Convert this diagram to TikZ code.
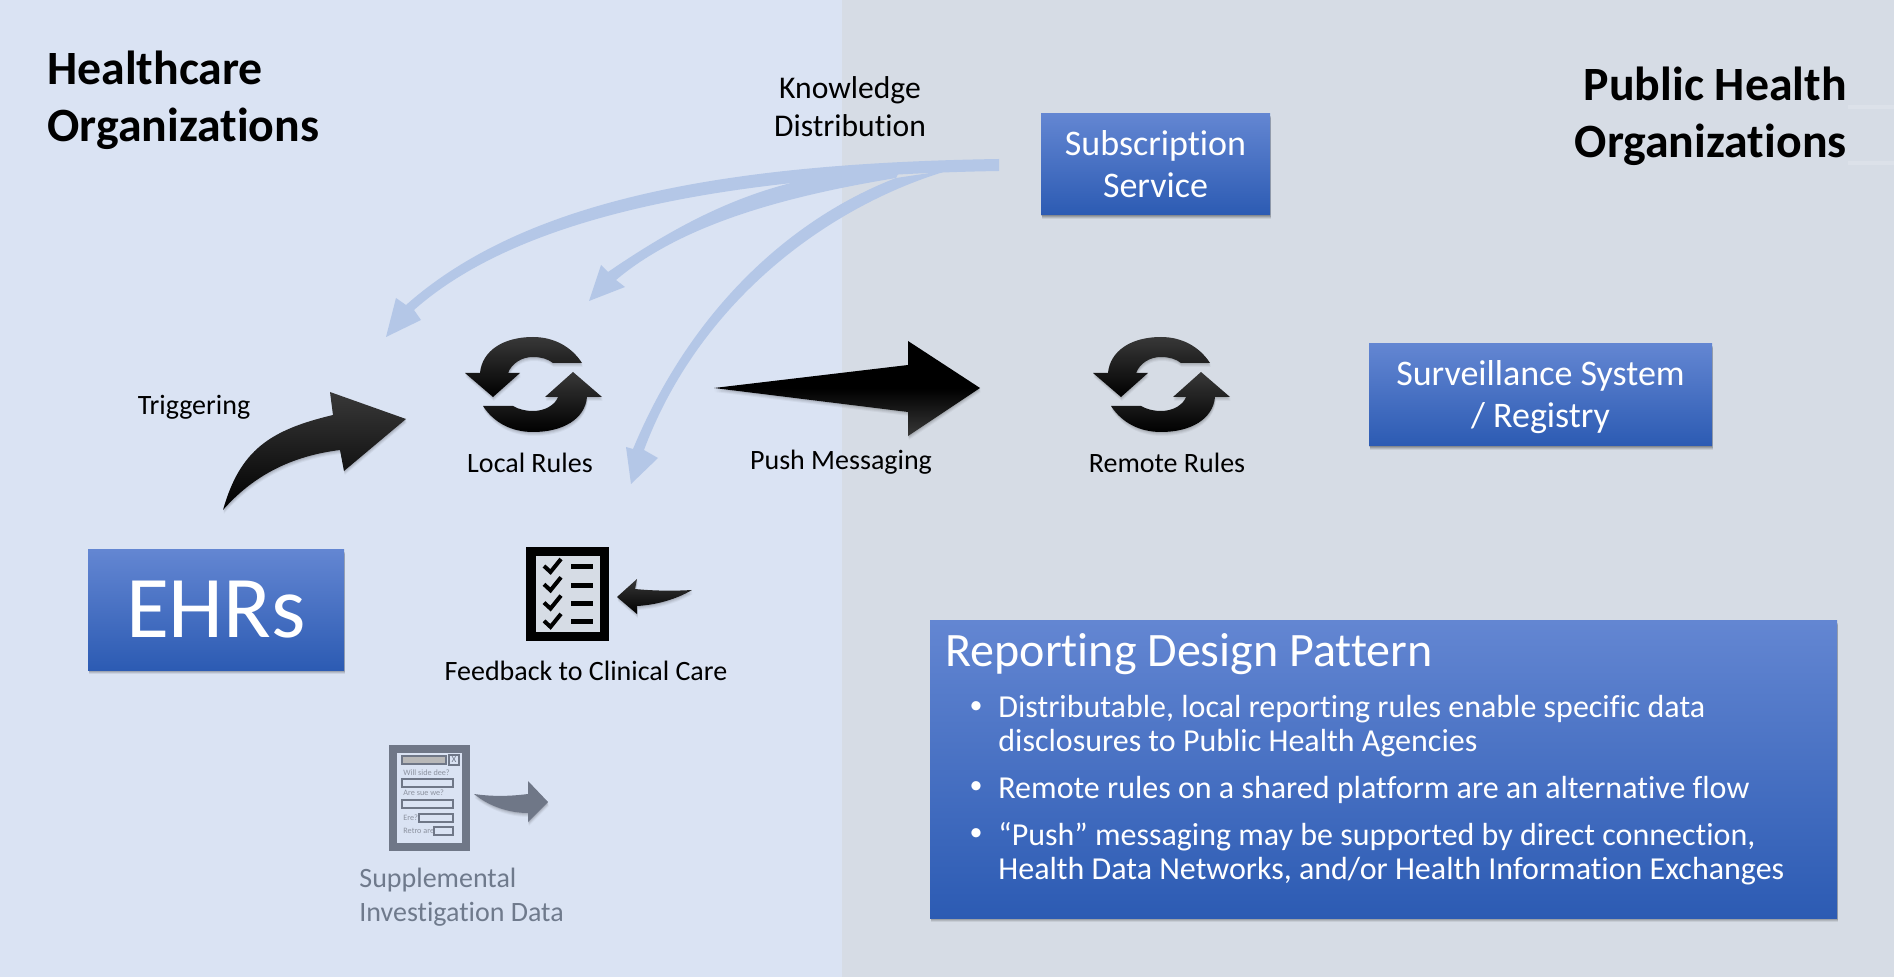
\documentclass[tikz,border=0pt]{standalone}
\usepackage{fontspec}
\setmainfont{Carlito}[Ligatures=NoCommon]
\usetikzlibrary{shadows}
\definecolor{bgL}{HTML}{DAE3F3}
\definecolor{bgR}{HTML}{D6DCE5}
\definecolor{flow}{HTML}{B4C7E7}
\definecolor{boxT}{HTML}{6386D2}
\definecolor{boxB}{HTML}{2C5BB3}
\definecolor{graytxt}{HTML}{6F7A8C}
\definecolor{formgray}{HTML}{6F7787}
\newcommand{\fsz}[1]{\fontsize{#1}{#1}\selectfont}
\tikzset{
  x=0.5pt,y=-0.5pt,
  softbox/.style={
    general shadow={shadow xshift=0.2pt,shadow yshift=-0.4pt,opacity=.14,fill=black},
    general shadow={shadow xshift=0.3pt,shadow yshift=-0.9pt,opacity=.12,fill=black},
    general shadow={shadow xshift=0.4pt,shadow yshift=-1.4pt,opacity=.10,fill=black},
    general shadow={shadow xshift=0.5pt,shadow yshift=-1.9pt,opacity=.07,fill=black}},
  softink/.style={
    general shadow={shadow xshift=0.2pt,shadow yshift=-0.5pt,opacity=.07,fill=black},
    general shadow={shadow xshift=0.3pt,shadow yshift=-1pt,opacity=.06,fill=black},
    general shadow={shadow xshift=0.3pt,shadow yshift=-1.5pt,opacity=.05,fill=black},
    general shadow={shadow xshift=0.4pt,shadow yshift=-2pt,opacity=.04,fill=black}},
  bluebox/.style={shade,top color=boxT,bottom color=boxB,text=white,align=center,inner sep=0pt,softbox},
  lbl/.style={inner sep=0pt,align=center,text=black},
  flowarrow/.style={fill=flow,draw=none},
  inkarrow/.style={top color=black!78,bottom color=black,draw=none,softink},
  inkarrowrev/.style={top color=black,bottom color=black!78,middle color=black,draw=none,softink},
  formbox/.style={draw=formgray,line width=0.9pt,fill=bgL},
  formtxt/.style={text=formgray!80,inner sep=0pt,anchor=west,font=\fsz{4.1}},
  bullettxt/.style={text=white,inner sep=0pt,anchor=west,align=left,font=\fontsize{16}{17}\selectfont},
  bulletdot/.style={text=white,inner sep=0pt,font=\fsz{13}},
}
\newcommand{\syncicon}[2]{%
  \begin{scope}[shift={(#1,#2)}]
    \shade[inkarrow] (49,-21) .. controls (38,-38) and (20,-47) .. (0,-47)
      .. controls (-30,-47) and (-51,-33) .. (-53,-11) -- (-68,-11) -- (-40,13) -- (-13,-11) -- (-25,-11)
      .. controls (-21,-21) and (-11,-27) .. (0,-27) .. controls (8,-27) and (15,-25) .. (20,-21) -- cycle;
    \shade[inkarrow] (-50,22) .. controls (-39,39) and (-21,48) .. (0,48)
      .. controls (30,48) and (52,35) .. (54,13) -- (69,13) -- (40,-12) -- (12,13) -- (25,13)
      .. controls (22,21) and (12,27) .. (0,27) .. controls (-8,27) and (-15,25) .. (-20,22) -- cycle;
  \end{scope}}
\begin{document}
\begin{tikzpicture}
\useasboundingbox (0,0) rectangle (1894,977);
\fill[bgL] (0,0) rectangle (842,977);
\fill[bgR] (842,0) rectangle (1894,977);
\fill[bgR!85!white] (1848,105) rectangle (1894,109);
\fill[bgR!85!white] (1848,161) rectangle (1894,165);

% Knowledge distribution flows
\fill[flowarrow] (999,159) .. controls (740,163) and (530,195) .. (406,305)
  -- (396,298) -- (386,337) -- (421,320) -- (414,310)
  .. controls (530,207) and (760,175) .. (999,171) -- cycle;
\fill[flowarrow] (900,170) -- (795,182) .. controls (725,199) and (665,233) .. (608,272)
  -- (601,265) -- (589,301) -- (625,287) -- (616,280)
  .. controls (680,226) and (780,197) .. (896,178) -- cycle;
\fill[flowarrow] (950,170) .. controls (830,205) and (700,300) .. (644,450)
  -- (658,458) -- (631,484) -- (626,447) -- (633,449)
  .. controls (695,300) and (800,215) .. (896,178) -- cycle;

% Black arrows
\shade[inkarrow] (223,510) .. controls (240,450) and (270,430) .. (333,415)
  -- (330,392) -- (406,419) -- (344,471) -- (340,450)
  .. controls (300,455) and (258,470) .. (223,510) -- cycle;
\shade[inkarrowrev] (714,388) -- (908,365) -- (908,341) -- (980,388) -- (908,436) -- (908,412) -- cycle;
\shade[inkarrow] (617,597) -- (637,579) -- (635,589) .. controls (655,591) and (675,591) .. (692,590)
  .. controls (675,600) and (655,605) .. (637,606) -- (637,614) -- cycle;

\syncicon{533}{384}
\syncicon{1161}{384}

% Checklist
\fill[black] (526,547) rectangle (609,641);
\fill[bgR] (536,556) rectangle (600,632);
\foreach \yy in {0,18.3,36.6,54.9}{
  \fill[black] (571,564.5+\yy) rectangle (593,569.5+\yy);
  \draw[black,line width=2pt] (544,566+\yy) -- (550.5,572+\yy) -- (561,559+\yy);
}

% Form icon
\fill[formgray] (389,745) rectangle (470,851);
\fill[bgL] (397,753) rectangle (462,843);
\draw[draw=formgray,line width=.9pt,fill=black!28] (402,756) rectangle (446,764);
\draw[formbox] (449,755) rectangle (459,765);
\node[text=formgray,inner sep=0pt,font=\fsz{4.6}] (formx) at (454,760) {X};
\node[formtxt] (q1) at (403,773) {Will side dee?};
\draw[formbox] (402,779) rectangle (453,787);
\node[formtxt] (q2) at (403,793) {Are sue we?};
\draw[formbox] (402,800) rectangle (453,808);
\node[formtxt] (q3) at (403,818) {Ere?};
\draw[formbox] (419,814) rectangle (453,822);
\node[formtxt] (q4) at (403,831) {Retro are};
\draw[formbox] (434,827) rectangle (453,835);
\fill[formgray,softink]
  (474,794) .. controls (495,797) and (512,796) .. (528,794) -- (528,781) -- (548,802) -- (528,822) -- (528,813)
  .. controls (510,813) and (490,807) .. (474,794) -- cycle;

% Boxes
\node[bluebox,minimum width=128pt,minimum height=60pt,font=\fsz{44}] (ehr) at (216,610) {EHRs};
\node[bluebox,minimum width=114.5pt,minimum height=50.5pt] (sub) at (1155.5,164.5) {};
\node[lbl,text=white,font=\fontsize{18}{21}\selectfont] (subt) at (1155.5,164) {Subscription\\Service};
\node[bluebox,minimum width=171.5pt,minimum height=51pt] (surv) at (1540.5,395) {};
\node[lbl,text=white,font=\fontsize{18}{21}\selectfont] (survt) at (1540.5,397.5) {Surveillance System\\/ Registry};
\node[bluebox,minimum width=453.5pt,minimum height=148.5pt] (rep) at (1383.5,769.5) {};

% Labels
\node[lbl,anchor=west,font=\bfseries\fontsize{23.9}{28.5}\selectfont,align=left] (hc) at (47,100.5) {Healthcare\\Organizations};
\node[lbl,anchor=east,font=\bfseries\fontsize{23.9}{28.5}\selectfont,align=right] (ph) at (1847,116.5) {Public Health\\Organizations};
\node[lbl,font=\fontsize{15.8}{18.8}\selectfont] (kd) at (850,106.5) {Knowledge\\Distribution};
\node[lbl,font=\fsz{14}] (trig) at (194,407) {Triggering};
\node[lbl,font=\fsz{14}] (lr) at (530,463) {Local Rules};
\node[lbl,font=\fsz{14}] (pm) at (841,462) {Push Messaging};
\node[lbl,font=\fsz{14}] (rr) at (1167,463) {Remote Rules};
\node[lbl,font=\fsz{14}] (fb) at (586,671) {Feedback to Clinical Care};
\node[lbl,anchor=west,align=left,text=graytxt,font=\fontsize{14}{17}\selectfont] (sup) at (359,897.5) {Supplemental\\Investigation Data};

% Reporting pattern text
\node[inner sep=0pt,anchor=west,text=white,font=\fsz{24}] (rt) at (945,654) {Reporting Design Pattern};
\node[bulletdot] (b1) at (976,708) {•};
\node[bullettxt] (t1) at (998,726.5) {Distributable, local reporting rules enable specific data\\disclosures to Public Health Agencies};
\node[bulletdot] (b2) at (976,788) {•};
\node[bullettxt] (t2) at (998,789.5) {Remote rules on a shared platform are an alternative flow};
\node[bulletdot] (b3) at (976,835) {•};
\node[bullettxt] (t3) at (998,853.5) {“Push” messaging may be supported by direct connection,\\Health Data Networks, and/or Health Information Exchanges};
\end{tikzpicture}
\end{document}
